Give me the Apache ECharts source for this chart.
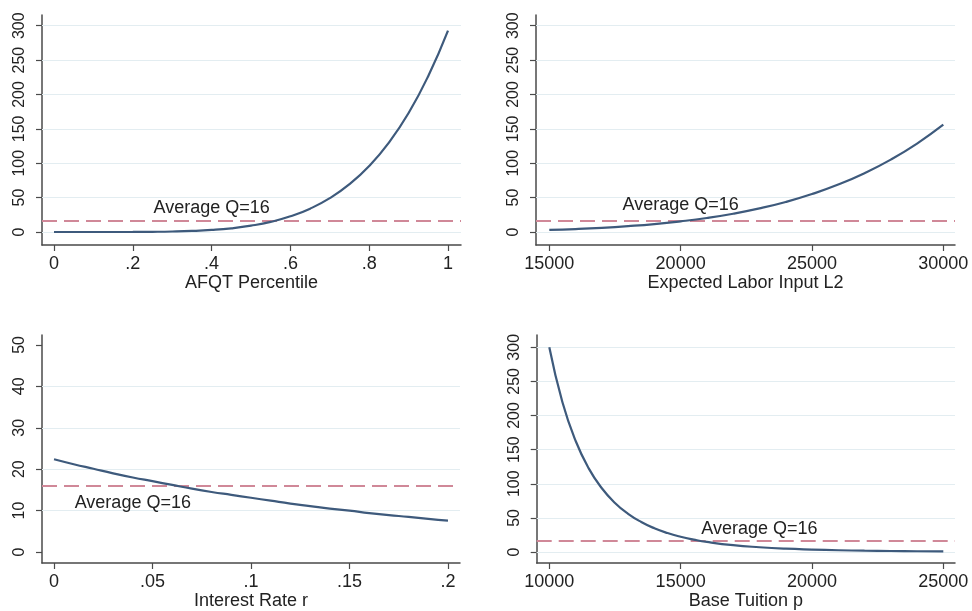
<!DOCTYPE html>
<html>
<head>
<meta charset="utf-8">
<script src="https://cdn.jsdelivr.net/npm/echarts@6/dist/echarts.min.js"></script>
<style>
html,body{margin:0;padding:0;background:#fff;}
#chart{width:972px;height:611px;}
</style>
</head>
<body>
<div id="chart"></div>
<script>
// ---- Data ----
const avgQ = 16;
const avgLabel = 'Average Q=16';

// Panel 1: AFQT Percentile
const afqtX = [0,0.05,0.1,0.15,0.2,0.25,0.3,0.35,0.4,0.45,0.5,0.55,0.6,0.65,0.7,0.75,0.8,0.85,0.9,0.95,1];
const afqtQ = [0,0,0,0.02,0.09,0.29,0.71,1.54,3.0,5.4,9.2,14.7,22.8,34.0,49.2,69.5,96.0,130,173,227,293];
const afqtXTicks = [0,0.2,0.4,0.6,0.8,1];
const afqtYTicks = [0,50,100,150,200,250,300];

// Panel 2: Expected Labor Input L2
const laborX = [15000,16000,17000,18000,19000,20000,21000,22000,23000,24000,25000,26000,27000,28000,29000,30000];
const laborQ = [3.0,4.3,6.1,8.5,11.5,15.5,20.4,26.6,34.3,43.7,55.2,69.0,85.6,105.3,128.6,156];
const laborXTicks = [15000,20000,25000,30000];
const laborYTicks = [0,50,100,150,200,250,300];

// Panel 3: Interest Rate r
const rateX = [0,0.01,0.02,0.03,0.04,0.05,0.06,0.07,0.08,0.09,0.1,0.11,0.12,0.13,0.14,0.15,0.16,0.17,0.18,0.19,0.2];
const rateQ = [22.4,21.2,20.1,19.0,18.0,17.1,16.2,15.3,14.5,13.8,13.1,12.4,11.7,11.1,10.5,10.0,9.4,8.9,8.5,8.0,7.6];
const rateXTicks = [0,0.05,0.1,0.15,0.2];
const rateYTicks = [0,10,20,30,40,50];
const rateGrid = [10,20,30,40];

// Panel 4: Base Tuition p
const tuitionX = [10000,10500,11000,11500,12000,12500,13000,13500,14000,14500,15000,15500,16000,17000,18000,19000,20000,21000,22000,23000,24000,25000];
const tuitionQ = [300,219.5,163,122.6,93.4,71.9,56.0,44.0,34.8,27.8,22.4,18.2,14.8,10.0,7.0,4.9,3.6,2.6,1.9,1.5,1.1,0.85];
const tuitionXTicks = [10000,15000,20000,25000];
const tuitionYTicks = [0,50,100,150,200,250,300];

// ---- Styles ----
const FONT = '"Liberation Sans", Arial, sans-serif';
const TXT = '#222';
const AXC = '#4a4a4a';
const CURVE = '#3e5a7c';
const DASH = '#d08898';
const GRIDC = '#e3edf1';

function fmtDec(v){
  if (v === 0) return '0';
  if (v === 1) return '1';
  return String(v).replace(/^0\./, '.');
}

const panels = [
  {grid:{left:42, top:15, width:419, height:230}, xMin:-0.0305, xMax:1.033, yMin:-18.9, yMax:315.6,
   x:afqtX, y:afqtQ, xt:afqtXTicks, yt:afqtYTicks, gl:afqtYTicks, name:'AFQT Percentile', fmt:fmtDec, lab:[0.4,35]},
  {grid:{left:536, top:15, width:419, height:230}, xMin:14494, xMax:30445, yMin:-18.9, yMax:315.6,
   x:laborX, y:laborQ, xt:laborXTicks, yt:laborYTicks, gl:laborYTicks, name:'Expected Labor Input L2', fmt:v=>String(v), lab:[20000,39]},
  {grid:{left:42, top:335, width:418, height:228.3}, xMin:-0.0061, xMax:0.2061, yMin:-2.65, yMax:52.4,
   x:rateX, y:rateQ, xt:rateXTicks, yt:rateYTicks, gl:rateGrid, name:'Interest Rate r', fmt:fmtDec, lab:[0.04,11.8]},
  {grid:{left:536.7, top:335, width:418.3, height:228.3}, xMin:9520, xMax:25445, yMin:-16.1, yMax:318,
   x:tuitionX, y:tuitionQ, xt:tuitionXTicks, yt:tuitionYTicks, gl:tuitionYTicks, name:'Base Tuition p', fmt:v=>String(v), lab:[18000,34]}
];

const option = {
  animation:false,
  backgroundColor:'#fff',
  grid:[], xAxis:[], yAxis:[], series:[]
};

panels.forEach((p,i)=>{
  option.grid.push(Object.assign({containLabel:false}, p.grid));
  option.xAxis.push({
    type:'value', gridIndex:i, min:p.xMin, max:p.xMax,
    name:p.name, nameLocation:'middle', nameGap:29,
    nameTextStyle:{fontFamily:FONT, fontSize:18, color:TXT},
    axisLine:{show:true, onZero:false, lineStyle:{color:AXC, width:1.5}},
    axisTick:{show:true, length:6, customValues:p.xt, lineStyle:{color:AXC, width:1.2}},
    axisLabel:{show:true, customValues:p.xt, margin:10, fontFamily:FONT, fontSize:18, color:TXT, formatter:p.fmt},
    splitLine:{show:false}
  });
  option.yAxis.push({
    type:'value', gridIndex:i, min:p.yMin, max:p.yMax,
    axisLine:{show:true, onZero:false, lineStyle:{color:AXC, width:1.5}},
    axisTick:{show:true, length:6, customValues:p.yt, lineStyle:{color:AXC, width:1.2}},
    axisLabel:{show:true, customValues:p.yt, rotate:90, margin:14, fontFamily:FONT, fontSize:16, color:TXT},
    splitLine:{show:false}
  });
  // gridlines
  option.series.push({
    type:'line', xAxisIndex:i, yAxisIndex:i, data:[], z:1, silent:true,
    markLine:{silent:true, symbol:'none', animation:false,
      label:{show:false},
      lineStyle:{color:GRIDC, width:1.2, type:'solid'},
      data:p.gl.map(v=>({yAxis:v}))}
  });
  // average line + label
  option.series.push({
    type:'line', xAxisIndex:i, yAxisIndex:i, data:[], z:2, silent:true,
    markLine:{silent:true, symbol:'none', animation:false,
      label:{show:false},
      lineStyle:{color:DASH, width:2.2, type:[15,7]},
      data:[{yAxis:avgQ}]},
    markPoint:{silent:true, symbol:'circle', symbolSize:0, animation:false,
      label:{show:true, position:'inside', formatter:avgLabel, fontFamily:FONT, fontSize:18, color:TXT},
      data:[{coord:p.lab}]}
  });
  // curve (on its own layer so it sits above the reference lines)
  option.series.push({
    type:'line', xAxisIndex:i, yAxisIndex:i, z:3, zlevel:1,
    data:p.x.map((xv,k)=>[xv,p.y[k]]),
    smooth:true, showSymbol:false, symbol:'none',
    lineStyle:{color:CURVE, width:2.2}
  });
});

const chart = echarts.init(document.getElementById('chart'), null, {renderer:'canvas'});
chart.setOption(option);
</script>
</body>
</html>
